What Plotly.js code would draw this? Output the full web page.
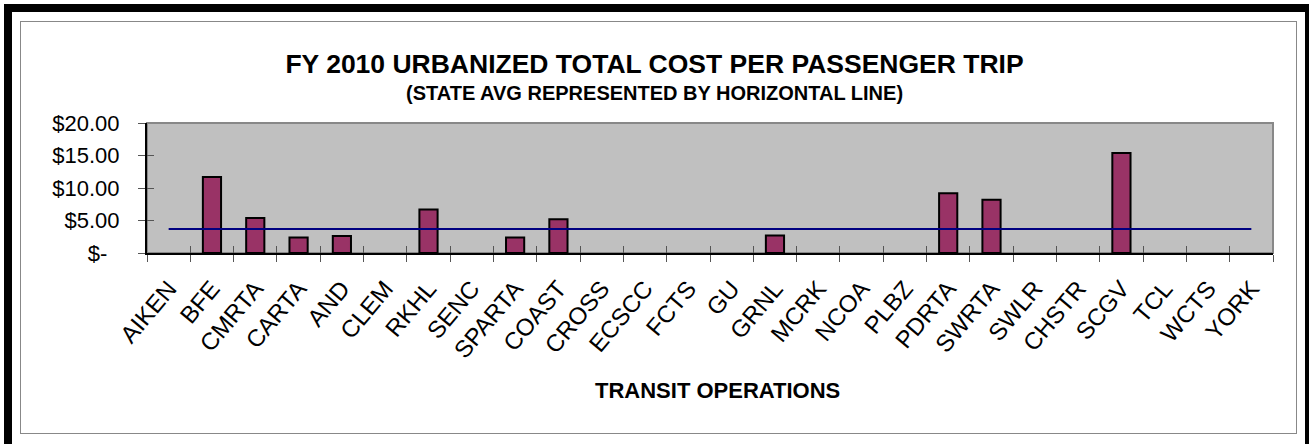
<!DOCTYPE html>
<html>
<head>
<meta charset="utf-8">
<script src="https://cdn.plot.ly/plotly-3.0.1.min.js"></script>
<style>
  html, body { margin: 0; padding: 0; background: #fff; overflow: hidden; }
  #frame { position: absolute; left: 4px; top: 4px; width: 1293px; height: 500px;
           border: 8px solid #000; border-bottom: none; }
  #inner { position: absolute; left: 20px; top: 21px; width: 1275px; height: 411px;
           border: 1.5px solid #888; }
  #chart { position: absolute; left: 0; top: 0; width: 1309px; height: 444px; }
</style>
</head>
<body>
<div id="frame"></div>
<div id="inner"></div>
<div id="chart"></div>
<script>
// transit operations (x categories)
var operations = ['AIKEN', 'BFE', 'CMRTA', 'CARTA', 'AND', 'CLEM', 'RKHL', 'SENC',
  'SPARTA', 'COAST', 'CROSS', 'ECSCC', 'FCTS', 'GU', 'GRNL', 'MCRK', 'NCOA', 'PLBZ',
  'PDRTA', 'SWRTA', 'SWLR', 'CHSTR', 'SCGV', 'TCL', 'WCTS', 'YORK'];

// total cost per passenger trip (null = no bar)
var costPerTrip = [null, 11.7, 5.4, 2.4, 2.6, null, 6.7, null,
  2.4, 5.2, null, null, null, null, 2.7, null, null, null,
  9.2, 8.2, null, null, 15.4, null, null, null];

// state average (horizontal line)
var stateAvg = 3.7;

var yTickVals = [0, 5, 10, 15, 20];
var yTickText = ['$-\u00a0\u00a0', '$5.00', '$10.00', '$15.00', '$20.00'];

var font = 'Liberation Sans, Arial, sans-serif';

var trace_bars = {
  x: operations,
  y: costPerTrip,
  type: 'bar',
  marker: { color: '#993366', line: { color: '#000', width: 2 } },
  hoverinfo: 'x+y'
};

// line runs from the first category centre to the last one
var trace_avg = {
  x: [0, operations.length - 1],
  y: [stateAvg, stateAvg],
  xaxis: 'x2',
  yaxis: 'y2',
  type: 'scatter',
  mode: 'lines',
  line: { color: '#000080', width: 2 },
  hoverinfo: 'y'
};

var boundaries = operations.map(function(item, i) { return i - 0.5; });
boundaries.push(operations.length - 0.5);

var layout = {
  width: 1309,
  height: 444,
  paper_bgcolor: 'rgba(0,0,0,0)',
  plot_bgcolor: '#C0C0C0',
  showlegend: false,
  bargap: 0.58,
  margin: { l: 147, r: 36, t: 123, b: 191 },
  font: { family: font, color: '#000' },
  title: {
    text: 'FY 2010 URBANIZED TOTAL COST PER PASSENGER TRIP',
    font: { family: font, size: 26.5, color: '#000', weight: 'bold' },
    x: 0.5, xanchor: 'center',
    y: 1 - 64 / 444, yanchor: 'middle', yref: 'container'
  },
  xaxis: {
    type: 'category',
    categoryorder: 'array',
    categoryarray: operations,
    range: [-0.5, operations.length - 0.5],
    tickson: 'boundaries',
    ticks: 'outside',
    ticklen: 7,
    tickwidth: 1,
    tickcolor: '#555',
    tickangle: -50,
    ticklabelstandoff: 10,
    tickfont: { family: font, size: 24, color: '#000' },
    showline: true,
    linecolor: '#000',
    linewidth: 2,
    showgrid: false,
    zeroline: false,
    fixedrange: true
  },
  xaxis2: {
    overlaying: 'x',
    anchor: 'y',
    range: [-0.5, operations.length - 0.5],
    tickmode: 'array',
    tickvals: boundaries,
    ticks: 'inside',
    ticklen: 7,
    tickwidth: 1,
    tickcolor: '#555',
    showticklabels: false,
    showgrid: false,
    zeroline: false,
    fixedrange: true
  },
  yaxis: {
    range: [0, 20],
    tickmode: 'array',
    tickvals: yTickVals,
    ticktext: yTickText,
    ticks: 'outside',
    ticklen: 7,
    tickwidth: 1,
    tickcolor: '#555',
    ticklabelstandoff: 14,
    tickfont: { family: font, size: 22, color: '#000' },
    showline: true,
    linecolor: '#000',
    linewidth: 2,
    showgrid: false,
    zeroline: false,
    fixedrange: true
  },
  yaxis2: {
    overlaying: 'y',
    anchor: 'x',
    range: [0, 20],
    tickmode: 'array',
    tickvals: yTickVals,
    ticks: 'inside',
    ticklen: 7,
    tickwidth: 1,
    tickcolor: '#555',
    showticklabels: false,
    showgrid: false,
    zeroline: false,
    fixedrange: true
  },
  shapes: [{
    type: 'rect', xref: 'paper', yref: 'paper', x0: 0, x1: 1, y0: 0, y1: 1,
    line: { color: '#888', width: 2 }, layer: 'below'
  }],
  annotations: [{
    text: '<b>(STATE AVG REPRESENTED BY HORIZONTAL LINE)</b>',
    xref: 'paper', yref: 'paper', x: (654 - 147) / 1126, y: 1 + (123 - 93) / 130,
    xanchor: 'center', yanchor: 'middle', showarrow: false,
    font: { family: font, size: 20, color: '#000' }
  }, {
    text: '<b>TRANSIT OPERATIONS</b>',
    xref: 'paper', yref: 'paper', x: (717 - 147) / 1126, y: -(390 - 253) / 130,
    xanchor: 'center', yanchor: 'middle', showarrow: false,
    font: { family: font, size: 22, color: '#000' }
  }]
};

Plotly.newPlot('chart', [trace_bars, trace_avg], layout, { displayModeBar: false, staticPlot: true });
</script>
</body>
</html>
